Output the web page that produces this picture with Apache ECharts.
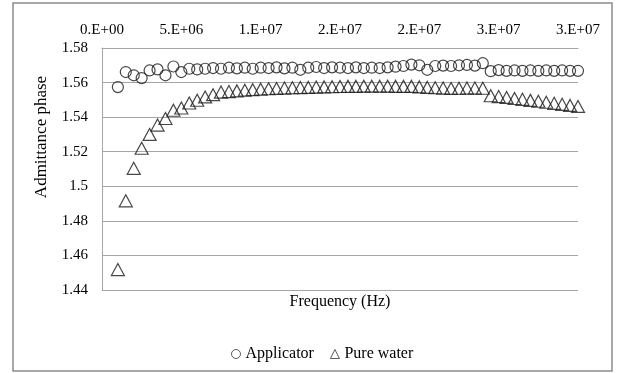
<!DOCTYPE html>
<html><head><meta charset="utf-8">
<script src="https://cdn.jsdelivr.net/npm/echarts@6/dist/echarts.min.js"></script>
<style>html,body{margin:0;padding:0;background:#fff}#c{width:624px;height:373px}</style>
</head><body><div id="c"></div>
<script>
// Frequency (Hz)
const freqHz = [1.0e6,1.5e6,2.0e6,2.5e6,3.0e6,3.5e6,4.0e6,4.5e6,5.0e6,5.5e6,6.0e6,6.5e6,7.0e6,7.5e6,8.0e6,8.5e6,9.0e6,9.5e6,
  1.0e7,1.05e7,1.1e7,1.15e7,1.2e7,1.25e7,1.3e7,1.35e7,1.4e7,1.45e7,1.5e7,1.55e7,1.6e7,1.65e7,1.7e7,1.75e7,1.8e7,1.85e7,1.9e7,1.95e7,
  2.0e7,2.05e7,2.1e7,2.15e7,2.2e7,2.25e7,2.3e7,2.35e7,2.4e7,2.45e7,2.5e7,2.55e7,2.6e7,2.65e7,2.7e7,2.75e7,2.8e7,2.85e7,2.9e7,2.95e7,3.0e7];
const applicator = [1.5574,1.5661,1.5642,1.5626,1.5670,1.5676,1.5642,1.5693,1.5661,1.5680,1.5676,1.5680,1.5684,1.5680,
  1.5686,1.5682,1.5686,1.5680,1.5686,1.5684,1.5688,1.5682,1.5686,1.5674,1.5686,1.5690,1.5684,1.5688,1.5686,1.5684,
  1.5688,1.5684,1.5686,1.5684,1.5688,1.5692,1.5696,1.5704,1.5700,1.5674,1.5696,1.5698,1.5696,1.5700,1.5702,1.5698,
  1.5712,1.5666,1.5672,1.5668,1.5670,1.5668,1.5670,1.5668,1.5670,1.5668,1.5670,1.5668,1.5668];
const pureWater = [1.4518,1.4916,1.5104,1.5220,1.5300,1.5354,1.5392,1.5440,1.5453,1.5482,1.5498,1.5517,1.5530,1.5545,
  1.5548,1.5552,1.5556,1.5559,1.5562,1.5564,1.5566,1.5568,1.5570,1.5571,1.5572,1.5574,1.5575,1.5576,1.5577,1.5578,
  1.5578,1.5579,1.5579,1.5579,1.5579,1.5578,1.5578,1.5578,1.5575,1.5572,1.5570,1.5568,1.5566,1.5567,1.5568,1.5568,
  1.5567,1.5524,1.5519,1.5514,1.5508,1.5503,1.5497,1.5492,1.5486,1.5480,1.5474,1.5468,1.5462];
const xTickLabels = ["0.E+00","5.E+06","1.E+07","2.E+07","2.E+07","3.E+07","3.E+07"];
const yTickLabels = ["1.44","1.46","1.48","1.5","1.52","1.54","1.56","1.58"];
const seriesNames = ["Applicator","Pure water"];

const FONT = '"Liberation Serif", "Times New Roman", serif';
const chart = echarts.init(document.getElementById('c'), null, {renderer:'canvas'});
const hollow = {color:'rgba(0,0,0,0)', borderColor:'#1a1a1a', borderWidth:1.2};
chart.setOption({
  animation:false,
  backgroundColor:'#fff',
  grid:{left:102, right:46, top:48, bottom:83},
  xAxis:{type:'value', position:'top', min:0, max:3e7, interval:5e6,
    axisLine:{show:true, lineStyle:{color:'#a6a6a6', width:1}},
    axisTick:{show:false}, splitLine:{show:false},
    axisLabel:{margin:10, color:'#000', fontFamily:FONT, fontSize:15,
      formatter:v=>xTickLabels[Math.round(v/5e6)]}},
  yAxis:{type:'value', min:1.44, max:1.58, interval:0.02,
    axisLine:{show:true, lineStyle:{color:'#a6a6a6', width:1}},
    axisTick:{show:false},
    splitLine:{show:true, lineStyle:{color:'#a6a6a6', width:1}},
    axisLabel:{margin:14, color:'#000', fontFamily:FONT, fontSize:15,
      formatter:v=>yTickLabels[Math.round((v-1.44)/0.02)]}},
  legend:{top:341, left:226, itemWidth:9, itemHeight:9, itemGap:16,
    itemStyle:{color:'rgba(0,0,0,0)', borderColor:'#333', borderWidth:1},
    textStyle:{color:'#000', fontFamily:FONT, fontSize:16},
    data:[{name:seriesNames[0], icon:'circle'},{name:seriesNames[1], icon:'triangle'}]},
  series:[
    {name:seriesNames[0], type:'scatter', symbol:'circle', symbolSize:11,
      itemStyle:hollow, data:freqHz.map((f,i)=>[f, applicator[i]])},
    {name:seriesNames[1], type:'scatter', symbol:'triangle', symbolSize:[13,12],
      itemStyle:hollow, data:freqHz.map((f,i)=>[f, pureWater[i]])}
  ],
  graphic:[
    {type:'rect', shape:{x:13, y:3, width:599, height:368}, style:{fill:'none', stroke:'#8c8c8c', lineWidth:1.5}, silent:true},
    {type:'text', x:340, y:302, style:{text:'Frequency (Hz)', font:'16px '+FONT, fill:'#000', textAlign:'center', textVerticalAlign:'middle'}},
    {type:'text', x:42, y:137, rotation:Math.PI/2, style:{text:'Admittance phase', font:'17px '+FONT, fill:'#000', textAlign:'center', textVerticalAlign:'middle'}}
  ]
});
</script></body></html>
